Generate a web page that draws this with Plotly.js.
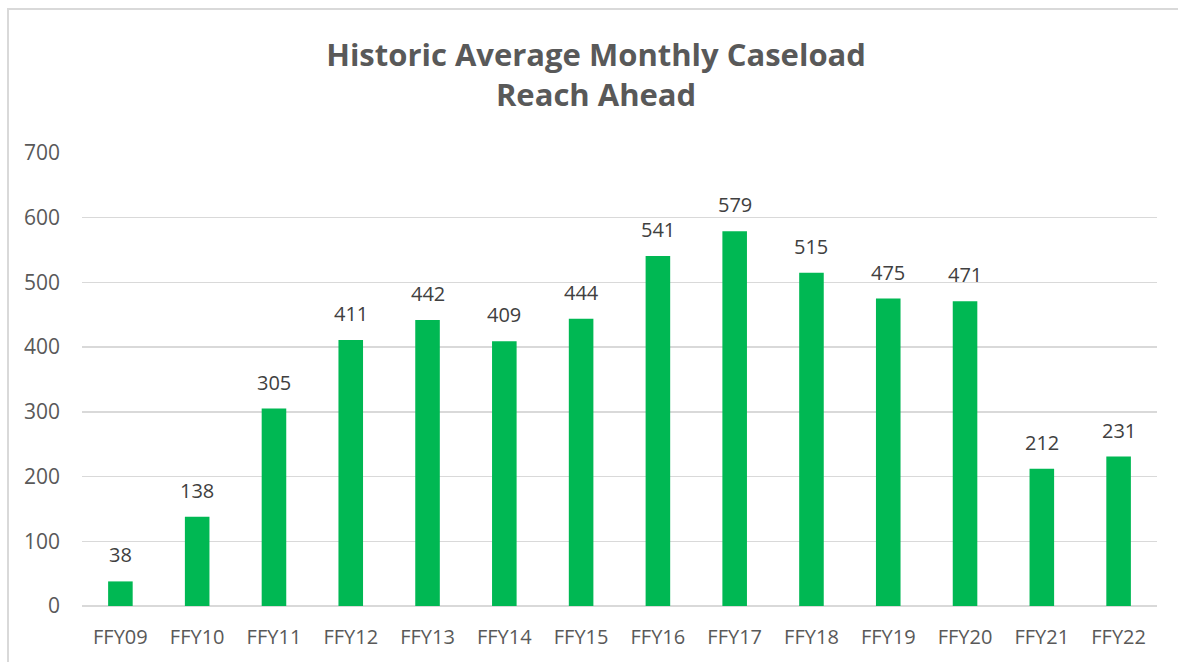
<!DOCTYPE html>
<html>
<head>
<meta charset="utf-8">
<script src="https://cdn.plot.ly/plotly-3.0.1.min.js"></script>
<style>
html,body{margin:0;padding:0;background:#fff;overflow:hidden;}
#frame{position:absolute;left:7px;top:8px;width:1200px;height:700px;border-left:2px solid #d9d9d9;border-top:2px solid #d9d9d9;pointer-events:none;}
#chart{position:absolute;left:0;top:0;width:1178px;height:662px;}
</style>
</head>
<body>
<div id="chart"></div>
<div id="frame"></div>
<script>
const categories = ["FFY09","FFY10","FFY11","FFY12","FFY13","FFY14","FFY15","FFY16","FFY17","FFY18","FFY19","FFY20","FFY21","FFY22"];
const caseload = [38,138,305,411,442,409,444,541,579,515,475,471,212,231];
const yTicks = [0,100,200,300,400,500,600,700];

const trace = {
  type: 'bar',
  x: categories,
  y: caseload,
  marker: {color: '#00b853', line: {width: 0}},
  hoverinfo: 'x+y'
};

const labels = categories.map((c, i) => ({
  x: c, y: caseload[i], xref: 'x', yref: 'y',
  text: String(caseload[i]),
  showarrow: false, yanchor: 'bottom', xanchor: 'center',
  yshift: 11,
  font: {family: 'Open Sans, sans-serif', size: 20, color: '#404040'}
}));

const layout = {
  width: 1178, height: 662,
  paper_bgcolor: '#ffffff', plot_bgcolor: '#ffffff',
  margin: {l: 82, r: 21, t: 153, b: 56},
  bargap: 0.68,
  showlegend: false,
  title: {
    text: '<b>Historic Average Monthly Caseload<br>Reach Ahead</b>',
    x: 0.506, xref: 'container', xanchor: 'center',
    y: 1 - 66/662, yref: 'container', yanchor: 'middle',
    font: {family: 'Open Sans, sans-serif', size: 31, color: '#595959'}
  },
  annotations: labels,
  xaxis: {
    type: 'category',
    showgrid: false, zeroline: false,
    showline: false,
    ticks: '',
    tickfont: {family: 'Open Sans, sans-serif', size: 20, color: '#595959'},
    ticklabelstandoff: 17
  },
  yaxis: {
    range: [0, 700],
    tickvals: yTicks,
    ticktext: yTicks.map(String),
    showgrid: true, gridcolor: '#d9d9d9', gridwidth: 1.5,
    zeroline: true, zerolinecolor: '#d9d9d9', zerolinewidth: 1.5,
    showline: false, ticks: '',
    tickfont: {family: 'Open Sans, sans-serif', size: 21, color: '#595959'},
    ticklabelstandoff: 21
  }
};

Plotly.newPlot('chart', [trace], layout, {displayModeBar: false, staticPlot: true});
</script>
</body>
</html>
